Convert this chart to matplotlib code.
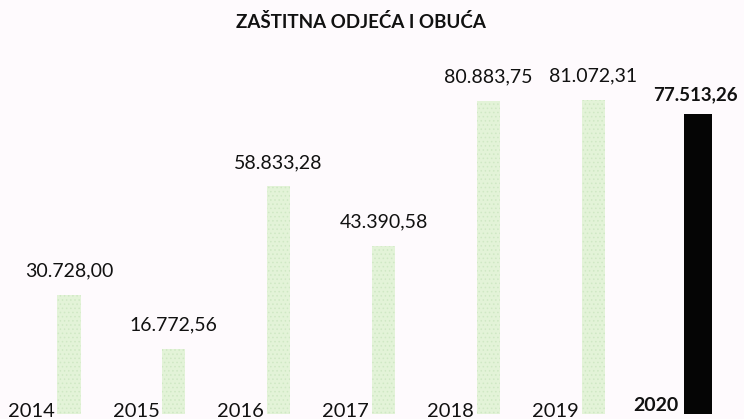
import matplotlib
matplotlib.use("Agg")
import matplotlib.pyplot as plt

years = ["2014", "2015", "2016", "2017", "2018", "2019", "2020"]
values = [30728.00, 16772.56, 58833.28, 43390.58, 80883.75, 81072.31, 77513.26]
value_labels = ["30.728,00", "16.772,56", "58.833,28", "43.390,58",
                "80.883,75", "81.072,31", "77.513,26"]
title = "ZAŠTITNA ODJEĆA I OBUĆA"

plt.rcParams["font.family"] = ["Lato", "DejaVu Sans"]
plt.rcParams["hatch.linewidth"] = 0.6

bg = "#fefafd"
fig = plt.figure(figsize=(7.44, 4.19), dpi=100, facecolor=bg)
ax = fig.add_axes([0.0, 0.012, 1.0, 0.869])
ax.set_facecolor(bg)

last = len(years) - 1
for i, (v, yl, vl) in enumerate(zip(values, years, value_labels)):
    highlight = i == last
    w = 0.26 if highlight else 0.22
    if highlight:
        ax.bar(i, v, width=w, color="#050505", linewidth=0)
    else:
        ax.bar(i, v, width=w, color="#e3f3d8", edgecolor="#cfe8c4",
               linewidth=0, hatch="....")
    ax.annotate(vl, xy=(i, v), xytext=(-2 if highlight else 0, 8 if highlight else 11),
                textcoords="offset points", ha="center", va="bottom",
                fontsize=14 if not highlight else 13.5, color="#111111",
                fontweight="bold" if highlight else "normal")
    ax.annotate(yl, xy=(i - w / 2, 0), xytext=(-2 if not highlight else -4,
                                               -4 if not highlight else 0),
                textcoords="offset points", ha="right", va="bottom",
                fontsize=14.5 if not highlight else 14, color="#111111",
                fontweight="bold" if highlight else "normal")

ax.set_xlim(-0.658, 6.439)
ax.set_ylim(0, 94050)
ax.axis("off")

fig.text(0.485, 0.947, title, ha="center", va="center",
         fontsize=13.5, fontweight="bold", color="#111111")

fig.savefig("out.png", dpi=100, facecolor=bg)
